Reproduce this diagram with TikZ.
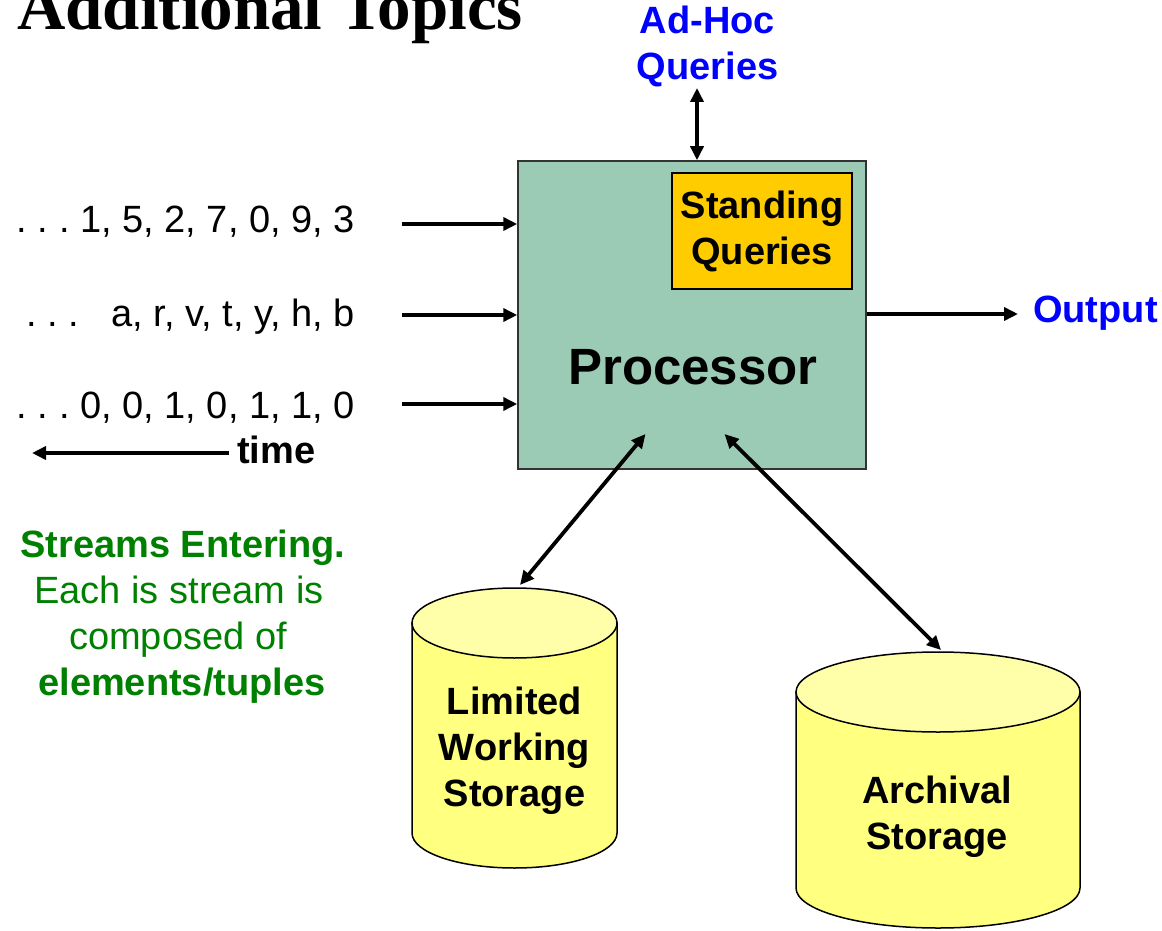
\documentclass[tikz,border=0pt]{standalone}
\usepackage{fontspec}
\setmainfont{Liberation Sans}
\newfontfamily\titlefont{Liberation Serif}
\usetikzlibrary{arrows.meta}
\definecolor{procfill}{RGB}{155,203,180}
\definecolor{sqfill}{RGB}{255,204,0}
\definecolor{cylbodyc}{RGB}{255,255,128}
\definecolor{cyltopc}{RGB}{255,255,170}
\definecolor{qblue}{RGB}{0,0,255}
\definecolor{sgreen}{RGB}{0,128,0}
\tikzset{
  txt/.style={inner sep=0pt, font=\fontsize{38}{46}\selectfont},
  btxt/.style={inner sep=0pt, font=\fontsize{38}{46}\selectfont\bfseries},
  arr/.style={line width=3.8pt, -{Triangle[length=14pt,width=13pt]}},
  darr/.style={line width=3.8pt, {Triangle[length=14pt,width=13pt]}-{Triangle[length=14pt,width=13pt]}},
  procbox/.style={draw=black!80, line width=1.5pt, fill=procfill, minimum width=348pt, minimum height=308pt, inner sep=0pt},
  sqbox/.style={draw=black, line width=1.5pt, fill=sqfill, minimum width=180pt, minimum height=116pt, inner sep=0pt, align=center, font=\fontsize{38}{46}\selectfont\bfseries},
  cylbody/.style={draw=black, line width=1.5pt, fill=cylbodyc},
  cyltop/.style={draw=black, line width=1.5pt, fill=cyltopc},
}
\begin{document}
\begin{tikzpicture}[x=1pt,y=-1pt]
\useasboundingbox (0,0) rectangle (1162,931);
\clip (0,0) rectangle (1162,931);

% title (cut off at top)
\node[anchor=base west, inner sep=0pt, font=\titlefont\bfseries\fontsize{67}{67}\selectfont] (title) at (17,30) {Additional Topics};

% processor
\node[procbox] (proc) at (692,315) {};
\node[anchor=base, inner sep=0pt, font=\fontsize{51}{60}\selectfont\bfseries] (proclabel) at (693,384) {Processor};
\node[sqbox] (sq) at (762,231) {Standing\\Queries};

% ad-hoc queries
\node[btxt, text=qblue, align=center] (adhoc) at (707.5,46) {Ad-Hoc\\Queries};
\coordinate (adhocend) at (697,88);
\draw[darr] (adhocend) -- (adhocend |- proc.north);

% streams
\node[txt, anchor=base east] (s1) at (355,232) {.\ .\ .\ 1, 5, 2, 7, 0, 9, 3};
\node[txt, anchor=base east] (s2) at (355,326) {.\ .\ .\hspace{32pt}a, r, v, t, y, h, b};
\node[txt, anchor=base east] (s3) at (355,418) {.\ .\ .\ 0, 0, 1, 0, 1, 1, 0};
\coordinate (in1) at (402,224);
\coordinate (in2) at (402,315);
\coordinate (in3) at (402,404);
\draw[arr] (in1) -- (proc.west |- in1);
\draw[arr] (in2) -- (proc.west |- in2);
\draw[arr] (in3) -- (proc.west |- in3);

% time
\node[btxt, anchor=base west] (time) at (237,463) {time};
\coordinate (timeend) at (32,453);
\draw[arr] (time.west |- timeend) ++(-8,0) -- (timeend);

% output
\node[btxt, text=qblue, anchor=base west] (out) at (1033,322) {Output};
\coordinate (outend) at (1018,314);
\draw[arr] (proc.east |- outend) -- (outend);

% green explanation
\node[btxt, text=sgreen, anchor=base] (g1) at (183,557) {Streams Entering.};
\node[txt, text=sgreen, anchor=base] (g2) at (179,603) {Each is stream is};
\node[txt, text=sgreen, anchor=base] (g3) at (178,649) {composed of};
\node[btxt, text=sgreen, anchor=base] (g4) at (182,695) {elements/tuples};

% limited working storage cylinder
\path[cylbody] (412,623) -- (412,833) arc[start angle=180, end angle=0, x radius=102.5, y radius=35] -- (617,623) -- cycle;
\path[cyltop] (514.5,623) ellipse[x radius=102.5, y radius=35];
\node[btxt, align=center] (lws) at (514.5,751) {Limited\\Working\\Storage};

% archival storage cylinder
\path[cylbody] (796,692) -- (796,888) arc[start angle=180, end angle=0, x radius=142, y radius=40] -- (1080,692) -- cycle;
\path[cyltop] (938,692) ellipse[x radius=142, y radius=40];
\node[btxt, align=center] (arch) at (937,817) {Archival\\Storage};

% processor <-> storage
\coordinate (p1) at (645.5,434);
\coordinate (c1) at (520,585);
\coordinate (p2) at (724.5,434);
\coordinate (c2) at (941,650);
\draw[darr] (p1) -- (c1);
\draw[darr] (p2) -- (c2);
\end{tikzpicture}
\end{document}
